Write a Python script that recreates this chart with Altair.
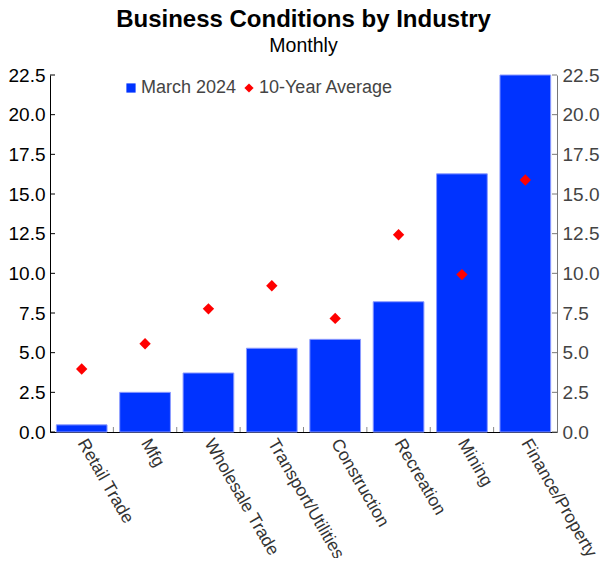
import altair as alt
import pandas as pd

categories = ["Retail Trade", "Mfg", "Wholesale Trade", "Transport/Utilities",
              "Construction", "Recreation", "Mining", "Finance/Property"]
march_2024 = [0.45, 2.5, 3.72, 5.28, 5.84, 8.21, 16.27, 22.5]
ten_year_avg = [3.97, 5.56, 7.76, 9.22, 7.16, 12.43, 9.92, 15.88]
y_ticks = [0.0, 2.5, 5.0, 7.5, 10.0, 12.5, 15.0, 17.5, 20.0, 22.5]
series_names = ["March 2024", "10-Year Average"]

W, H = 507, 357
FONT = "Liberation Sans"
BLUE = "#0033FF"
RED = "#FF0000"

bars_df = pd.DataFrame({"cat": categories, "value": march_2024, "series": series_names[0]})
avg_df = pd.DataFrame({"cat": categories, "value": ten_year_avg, "series": series_names[1]})
ticks_df = pd.DataFrame({"v": y_ticks})
sep_df = pd.DataFrame({"cat": categories[1:]})

yscale = alt.Scale(domain=[0, 22.5], nice=False, zero=True)
xscale = alt.Scale(domain=categories, paddingInner=0.2, paddingOuter=0.1)
color_scale = alt.Scale(domain=series_names, range=[BLUE, RED])
shape_scale = alt.Scale(domain=series_names, range=["square", "diamond"])

legend_spec = alt.Legend(title=None, orient="none", direction="horizontal",
                         legendX=72, legendY=4, labelFont=FONT,
                         labelFontSize=18, labelColor="#444444",
                         symbolSize=85, columnPadding=3,
                         symbolStrokeWidth=0, labelOffset=1)

xaxis = alt.Axis(title=None, labelAngle=60, labelAlign="left", labelBaseline="middle",
                 labelFont=FONT, labelFontSize=17.5, labelColor="#333333",
                 labelPadding=8, ticks=False, domainColor="#000000", domainWidth=1)

bars = alt.Chart(bars_df).mark_bar(stroke="#8C9BFF", strokeWidth=1).encode(
    x=alt.X("cat:N", scale=xscale, sort=categories, axis=xaxis),
    y=alt.Y("value:Q", scale=yscale,
            axis=alt.Axis(title=None, orient="left", values=y_ticks, format=".1f",
                          ticks=False, labelFont=FONT, labelFontSize=19,
                          labelColor="#000000", labelPadding=5,
                          domainColor="#000000", grid=False)),
    color=alt.Color("series:N", scale=color_scale, legend=legend_spec),
    shape=alt.Shape("series:N", scale=shape_scale, legend=legend_spec),
)

points = alt.Chart(avg_df).mark_point(filled=True, shape="diamond", size=130, opacity=1).encode(
    x=alt.X("cat:N", scale=xscale, sort=categories),
    y=alt.Y("value:Q", scale=yscale, axis=None),
    color=alt.Color("series:N", scale=color_scale, legend=legend_spec),
    shape=alt.Shape("series:N", scale=shape_scale, legend=legend_spec),
)

left_ticks = alt.Chart(ticks_df).mark_rule(color="#000000", strokeWidth=1).encode(
    y=alt.Y("v:Q", scale=yscale, axis=None),
    x=alt.value(0), x2=alt.value(5),
)

right_ticks = alt.Chart(ticks_df).mark_rule(color="#777777", strokeWidth=1).encode(
    y=alt.Y("v:Q", scale=yscale,
            axis=alt.Axis(title=None, orient="right", values=y_ticks, format=".1f",
                          ticks=False, labelFont=FONT, labelFontSize=19,
                          labelColor="#444444", labelPadding=5,
                          domainColor="#777777", grid=False)),
    x=alt.value(W - 5), x2=alt.value(W),
)

sep_ticks = alt.Chart(sep_df).mark_rule(color="#888888", strokeWidth=1, xOffset=-6.34).encode(
    x=alt.X("cat:N", scale=xscale, sort=categories, bandPosition=0),
    y=alt.value(H), y2=alt.value(H - 5),
)

chart = alt.layer(bars, points, left_ticks, sep_ticks, right_ticks).resolve_scale(
    y="independent"
).properties(
    width=W, height=H,
    autosize=alt.AutoSizeParams(type="none"),
    padding={"left": 42, "top": 67, "right": 43, "bottom": 126},
    title=alt.TitleParams("Business Conditions by Industry", subtitle="Monthly",
                          font=FONT, fontSize=24, fontWeight="bold", color="#000000",
                          subtitleFont=FONT, subtitleFontSize=19.5, subtitleColor="#000000",
                          anchor="middle", offset=11, subtitlePadding=5),
).configure_view(stroke=None)

chart.save("out.html", embed_options={"renderer": "svg", "actions": False})
